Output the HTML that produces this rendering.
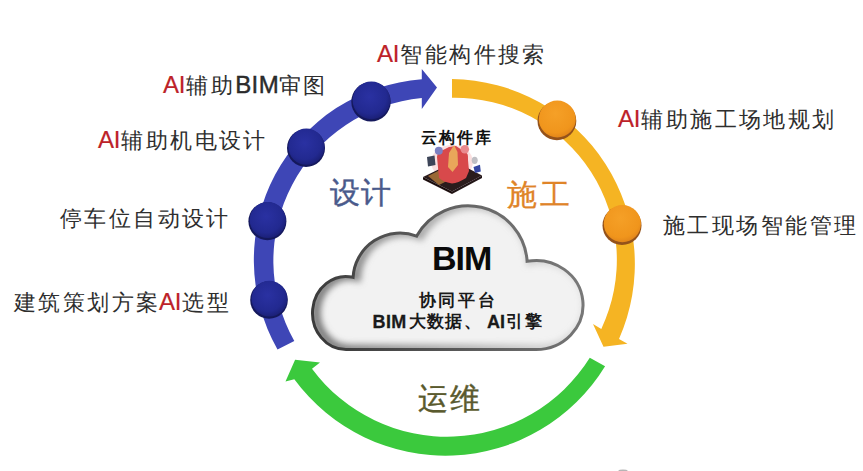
<!DOCTYPE html>
<html><head><meta charset="utf-8">
<style>
html,body{margin:0;padding:0;background:#fff;}
body{width:863px;height:471px;position:relative;overflow:hidden;font-family:"Liberation Sans",sans-serif;}
svg{position:absolute;left:0;top:0;}
.t{position:absolute;white-space:nowrap;line-height:1;color:#2e2e2e;font-family:"Liberation Serif",serif;}
.t .ai{color:#bd2229;font-family:"Liberation Sans",sans-serif;font-size:24px;letter-spacing:1px;}
.t .ai b{font-weight:normal;letter-spacing:-0.3px;}
.t .ai{-webkit-text-stroke:0.2px #bb2026;}
.lab{font-size:22px;letter-spacing:2.4px;}
</style></head><body>
<svg width="863" height="471" viewBox="0 0 863 471">
<defs>
<radialGradient id="gb" cx="0.45" cy="0.4" r="0.6">
<stop offset="0" stop-color="#2a31a2"/><stop offset="0.75" stop-color="#222990"/><stop offset="1" stop-color="#1b2078"/>
</radialGradient>
<radialGradient id="go" cx="0.45" cy="0.35" r="0.65">
<stop offset="0" stop-color="#f5a027"/><stop offset="0.8" stop-color="#f0951c"/><stop offset="1" stop-color="#e2861a"/>
</radialGradient>
<clipPath id="cc"><path id="cp" d="M346 349.5 A33.5 36.5 0 1 1 353.08 277.32 A47 47 0 0 1 416.67 236.06 A59 59 0 0 1 527.1 261.31 A47 44.5 0 1 1 536 349.5 Z"/></clipPath>
<linearGradient id="sg" gradientUnits="userSpaceOnUse" x1="320" y1="330" x2="580" y2="240">
<stop offset="0" stop-color="#3a3a3a"/><stop offset="0.5" stop-color="#5c5c5c"/><stop offset="1" stop-color="#7c7c7c"/></linearGradient>
<linearGradient id="shg" gradientUnits="userSpaceOnUse" x1="310" y1="300" x2="585" y2="260">
<stop offset="0" stop-color="#767676"/><stop offset="0.5" stop-color="#949494" stop-opacity="0.7"/><stop offset="1" stop-color="#b4b4b4" stop-opacity="0.3"/></linearGradient>
<filter id="bl" x="-20%" y="-20%" width="140%" height="140%"><feGaussianBlur stdDeviation="3"/></filter>
</defs>
<!-- blue arc -->
<path d="M277.5 349.4 A181.1 181.1 0 0 1 421.8 79.3 L421.8 68.9 L437.0 87.4 L421.8 109.0 L421.8 98.0 A163.7 163.7 0 0 0 294.3 341.1 Z" fill="#3e46b6"/>
<!-- orange arc -->
<path d="M452.0 79.1 A184.9 184.9 0 0 1 619.0 338.9 L627.5 343.7 L603.5 346.8 L593.0 324.1 L601.3 328.9 A161.9 161.9 0 0 0 452.0 97.8 Z" fill="#f5b423"/>
<!-- green arc -->
<path d="M605.1 366.2 A187.4 187.4 0 0 1 294.3 379.2 L285.5 381.5 L295.1 359.8 L320.0 362.4 L312.0 368.8 A168.3 168.3 0 0 0 589.8 357.7 Z" fill="#3bc93d"/>
<!-- blue nodes -->
<circle cx="371.0" cy="101.7" r="19.7" fill="#14185c"/>
<circle cx="371.4" cy="100.4" r="18.8" fill="url(#gb)"/>
<circle cx="306.0" cy="148.0" r="19" fill="#14185c"/>
<circle cx="306.4" cy="146.7" r="18.1" fill="url(#gb)"/>
<circle cx="267.4" cy="221.3" r="19" fill="#14185c"/>
<circle cx="267.8" cy="220.0" r="18.1" fill="url(#gb)"/>
<circle cx="269.0" cy="300.0" r="18.8" fill="#14185c"/>
<circle cx="269.4" cy="298.7" r="17.9" fill="url(#gb)"/>
<!-- orange nodes -->
<circle cx="556.9" cy="120.9" r="19.4" fill="#94521a"/>
<circle cx="557.3" cy="119.0" r="18.5" fill="url(#go)"/>
<circle cx="622.0" cy="225.5" r="19.5" fill="#94521a"/>
<circle cx="622.4" cy="223.6" r="18.6" fill="url(#go)"/>
<!-- cloud -->
<use href="#cp" fill="#f2f2f2"/>
<g clip-path="url(#cc)"><use href="#cp" fill="none" stroke="url(#shg)" stroke-width="9" filter="url(#bl)" transform="translate(3.5,-0.5)"/></g>
<use href="#cp" fill="none" stroke="url(#sg)" stroke-width="3"/>
<!-- icon -->
<filter id="ib" x="-10%" y="-10%" width="120%" height="120%"><feGaussianBlur stdDeviation="0.5"/></filter>
<g id="icon" filter="url(#ib)">
<ellipse cx="452" cy="162" rx="21" ry="17" fill="#f2a6a6" opacity="0.35"/>
<path d="M423 177 L455 161.5 L482 175.5 L452 191.5 Z" fill="#2c1a1c"/>
<path d="M423 177 L452 191.5 L452 194 L423 179.5 Z" fill="#1a1011"/>
<path d="M452 191.5 L482 175.5 L482 178 L452 194 Z" fill="#221416"/>
<path d="M428 176 L445 167.5 L451 179 L439 185 Z" fill="#c88a40" opacity="0.7"/>
<path d="M437 157 Q437 151 443 150 L449 147 L456 146 L462 150 Q469 152 468 160 L469 171 L466 178 Q458 183 452 183.5 Q443 182 439 178 Z" fill="#d8484b"/>
<path d="M448 167 L449 153 L454 145 L457.5 152 L458 165 L452.5 172 Z" fill="#e9a65a"/>
<circle cx="438.8" cy="150.8" r="4" fill="#7d80c2"/>
<circle cx="464.8" cy="149.3" r="4.3" fill="#e98a8e"/>
<path d="M427 157 L434.5 155.5 L435.5 165 L428 166.5 Z" fill="#3e4558"/>
<ellipse cx="474.7" cy="160.3" rx="3" ry="3.6" fill="#bfbfc4"/>
<path d="M473.5 167 L480 164.8 L480.8 171.5 L475 173 Z" fill="#3446a2"/>
</g>
<ellipse cx="623" cy="471.8" rx="5" ry="2.2" fill="#b5b5b5"/>
</svg>

<div class="t lab" style="left:377px;top:42px"><span class="ai"><b>A</b>I</span>智能构件搜索</div>
<div class="t lab" style="left:163px;top:73px"><span class="ai"><b>A</b>I</span>辅助<span style="font-family:'Liberation Sans',sans-serif;font-size:24px;letter-spacing:0.4px;-webkit-text-stroke:0.4px #1e1e1e">BIM</span>审图</div>
<div class="t lab" style="left:98px;top:128px"><span class="ai"><b>A</b>I</span>辅助机电设计</div>
<div class="t lab" style="left:60px;top:207.5px">停车位自动设计</div>
<div class="t lab" style="left:14px;top:290px">建筑策划方案<span class="ai" style="margin-left:-1.5px"><b>A</b>I</span>选型</div>
<div class="t lab" style="left:618px;top:107px"><span class="ai"><b>A</b>I</span>辅助施工场地规划</div>
<div class="t lab" style="left:662.5px;top:214.5px;letter-spacing:2.5px">施工现场智能管理</div>

<div class="t" style="left:329.5px;top:178px;font-size:30px;letter-spacing:1px;color:#4a5a8b;-webkit-text-stroke:0.4px #4a5a8b">设计</div>
<div class="t" style="left:507px;top:179.5px;font-size:30px;letter-spacing:3px;color:#df8428;-webkit-text-stroke:0.3px #df8428">施工</div>
<div class="t" style="left:418px;top:384px;font-size:30px;letter-spacing:1.5px;color:#5a5a2e;-webkit-text-stroke:0.4px #5a5a2e">运维</div>

<div class="t" style="left:420.5px;top:130px;font-size:16px;letter-spacing:2px;font-weight:bold;color:#111">云构件库</div>

<div class="t" style="left:432px;top:241px;font-size:34px;letter-spacing:-1px;font-weight:bold;color:#0a0a0a;font-family:'Liberation Sans',sans-serif">BIM</div>
<div class="t" style="left:418.5px;top:291.5px;font-size:17px;letter-spacing:2.8px;font-weight:bold;color:#1a1a1a">协同平台</div>
<div class="t" style="left:372.5px;top:313px;font-size:18px;letter-spacing:0.4px;font-weight:bold;color:#1a1a1a;font-family:'Liberation Sans',sans-serif;-webkit-text-stroke:0.3px #1a1a1a">BIM</div>
<div class="t" style="left:409px;top:313px;font-size:17px;letter-spacing:1.2px;font-weight:bold;color:#1a1a1a">大数据、</div>
<div class="t" style="left:487px;top:313px;font-size:18px;font-weight:bold;color:#1a1a1a;font-family:'Liberation Sans',sans-serif;-webkit-text-stroke:0.3px #1a1a1a">AI</div>
<div class="t" style="left:506px;top:313px;font-size:17px;letter-spacing:1.5px;font-weight:bold;color:#1a1a1a">引擎</div>
</body></html>
